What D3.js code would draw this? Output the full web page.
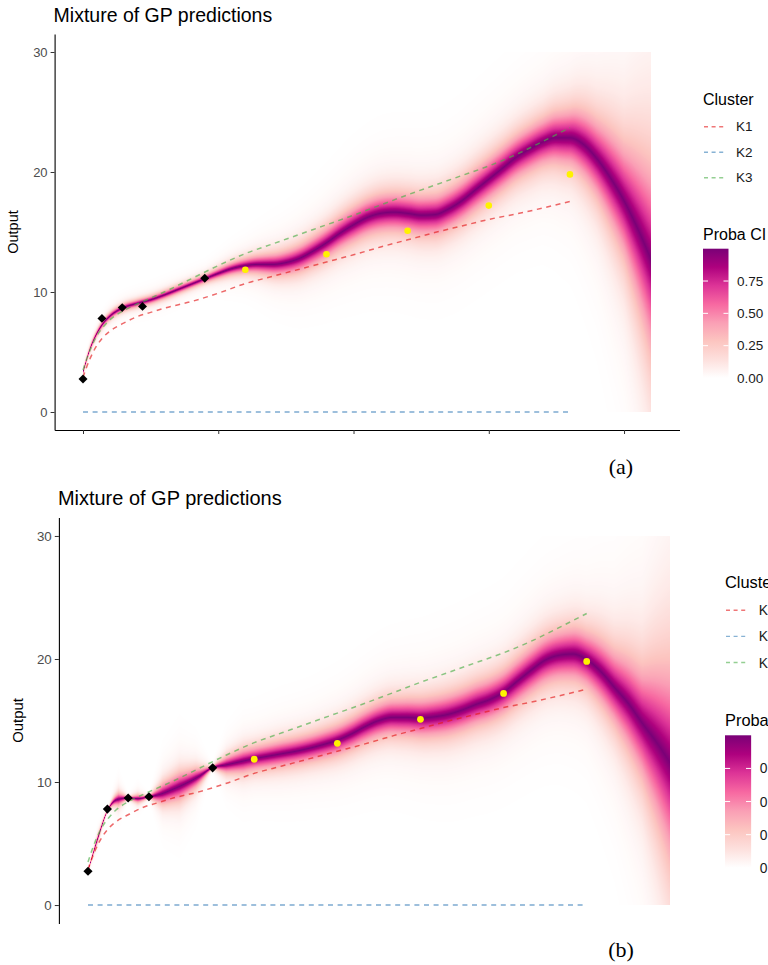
<!DOCTYPE html>
<html>
<head>
<meta charset="utf-8">
<script src="https://cdnjs.cloudflare.com/ajax/libs/d3/7.8.5/d3.min.js"></script>
<style>
  body { margin: 0; background: #fff; }
  svg { display: block; font-family: "Liberation Sans", Arial, sans-serif; }
</style>
</head>
<body>
<svg id="fig" width="768" height="965"></svg>
<script>
// ---- data ----
const xTicks = [0, 5, 10, 15, 20]
const yTicks = [0, 10, 20, 30]
const clusters = ["K1", "K2", "K3"]
const clusterColors = ["#E41A1C", "#377EB8", "#4DAF4A"]
const probaTicks = [0, 0.25, 0.5, 0.75]

// observed points of the new individual (black) and test points (yellow)
const trainX = [0, 0.7, 1.45, 2.2, 4.5]
const trainY = [2.75, 7.8, 8.7, 8.8, 11.15]
const testX = [6, 9, 12, 15, 18]
const testY = [11.85, 13.15, 15.1, 17.2, 19.8]

// cluster mean processes (dashed)
const clusterX = [0, 0.25, 0.5, 0.75, 1, 1.5, 2, 2.5, 3, 4, 5, 6, 7, 8, 9, 10, 11, 12, 13, 14, 15, 16, 17, 18]
const k1Mean = [2.9, 4.4, 5.5, 6.25, 6.75, 7.4, 7.95, 8.3, 8.65, 9.2, 9.9, 10.7, 11.3, 11.9, 12.5, 13.1, 13.75, 14.35, 14.95, 15.5, 16.05, 16.5, 17.0, 17.55]
const k2Mean = [0, 0, 0, 0, 0, 0, 0, 0, 0, 0, 0, 0, 0, 0, 0, 0, 0, 0, 0, 0, 0, 0, 0, 0]
const k3Mean = [3.5, 5.1, 6.3, 7.1, 7.7, 8.45, 9.0, 9.5, 10.0, 11.1, 12.2, 13.2, 14.0, 14.8, 15.6, 16.4, 17.25, 18.1, 18.9, 19.7, 20.5, 21.45, 22.55, 23.7]

// panel (a): prediction mean and spread
const predXA = [0, 0.25, 0.5, 0.75, 1, 1.5, 2, 2.5, 3, 3.5, 4, 4.5, 5, 5.5, 6, 6.5, 7, 7.5, 8, 8.5, 9, 9.5, 10, 10.5, 11, 11.5, 12, 12.5, 13, 13.5, 14, 14.5, 15, 15.5, 16, 16.5, 17, 17.5, 18, 18.5, 19, 19.5, 20, 20.5, 21]
const predMeanA = [3.3, 5.2, 6.5, 7.4, 8.0, 8.7, 9.05, 9.35, 9.75, 10.2, 10.65, 11.1, 11.55, 11.95, 12.2, 12.3, 12.3, 12.45, 12.8, 13.4, 14.1, 14.9, 15.6, 16.2, 16.55, 16.65, 16.55, 16.4, 16.45, 16.9, 17.6, 18.5, 19.4, 20.3, 21.2, 21.9, 22.5, 22.85, 22.85, 22.3, 21.1, 19.5, 17.6, 15.3, 12.7]
const sdXA = [0, 1, 2, 3, 4, 4.5, 5, 6, 7, 8, 9, 10, 11, 12, 13, 14, 15, 16, 17, 18, 19, 20, 21]
const sdA = [0.18, 0.26, 0.28, 0.3, 0.3, 0.3, 0.38, 0.55, 0.8, 1.0, 1.15, 1.3, 1.4, 1.45, 1.5, 1.55, 1.6, 1.65, 1.75, 2.1, 2.9, 4.2, 7.0]

// panel (b)
const predXB = [0, 0.35, 0.73, 0.9, 1.1, 1.45, 1.8, 2.2, 2.6, 3, 3.5, 4, 4.48, 5, 5.5, 6, 6.5, 7, 7.5, 8, 8.5, 9, 9.5, 10, 10.5, 11, 11.5, 12, 12.5, 13, 13.5, 14, 14.5, 15, 15.5, 16, 16.5, 17, 17.5, 18, 18.5, 19, 19.5, 20, 20.5, 21]
const predMeanB = [2.76, 5.4, 7.8, 8.35, 8.6, 8.7, 8.65, 8.8, 9.0, 9.35, 9.85, 10.45, 11.15, 11.4, 11.65, 11.9, 12.1, 12.3, 12.5, 12.75, 13.05, 13.4, 13.9, 14.5, 15.0, 15.25, 15.25, 15.2, 15.3, 15.5, 15.85, 16.3, 16.7, 17.3, 18.2, 19.1, 19.9, 20.3, 20.4, 19.95, 19.0, 17.7, 16.4, 14.8, 13.3, 11.6]
const sdXB = [0, 0.35, 0.73, 1.1, 1.45, 1.8, 2.2, 2.7, 3.3, 3.9, 4.48, 5, 5.6, 6, 7, 8, 9, 10, 11, 12, 13, 14, 15, 16, 17, 18, 19, 20, 21]
const sdB = [0.08, 0.25, 0.08, 0.45, 0.08, 0.28, 0.08, 0.75, 1.0, 0.7, 0.08, 0.6, 0.85, 0.85, 0.95, 1.0, 1.1, 1.2, 1.3, 1.4, 1.5, 1.55, 1.6, 1.7, 1.8, 2.0, 2.7, 4.0, 7.0]

const gridX = [0, 21]
const gridY = [0, 30]

// ---- drawing ----
const svg = d3.select("#fig")
const probaColors = ["#ffffff", "#fde0dd", "#fcc5c0", "#fa9fb5", "#f768a1", "#dd3497", "#ae017e", "#7a0177"]
const probaScale = d3.scaleLinear()
  .domain(d3.range(probaColors.length).map(i => i / (probaColors.length - 1)))
  .range(probaColors)
const lut = d3.range(256).map(i => d3.rgb(probaScale(i / 255)))

// two sided tail probability, 1 at the mean
const erf = x => {
  const t = 1 / (1 + 0.3275911 * x)
  return 1 - (((((1.061405429 * t - 1.453152027) * t) + 1.421413741) * t - 0.284496736) * t + 0.254829592) * t * Math.exp(-x * x)
}
const tail = z => 1 - erf(Math.abs(z) / Math.SQRT2)

const drawPanel = (p) => {
  const x = d3.scaleLinear().domain([-1.05, 22.05]).range(p.xRange)
  const y = d3.scaleLinear().domain([-1.5, 31.5]).range(p.yRange)
  const s = p.fs
  const g = svg.append("g")

  // mean curve lookup through a monotone path
  const tmp = g.append("path")
    .attr("d", d3.line().x(d => x(d[0])).y(d => y(d[1])).curve(d3.curveMonotoneX)(p.predX.map((v, i) => [v, p.predMean[i]])))
    .attr("fill", "none").attr("stroke", "none")
  const node = tmp.node()
  const len = node.getTotalLength()
  const pts = d3.range(0, len, 0.5).map(l => node.getPointAtLength(l))
  tmp.remove()
  const meanAt = d3.scaleLinear().domain(pts.map(d => d.x)).range(pts.map(d => d.y)).clamp(true)
  const sdAt = d3.scaleLinear().domain(p.sdX).range(p.sd).clamp(true)
  const unit = y(0) - y(1)

  const x0 = Math.round(x(gridX[0])), x1 = Math.round(x(gridX[1]))
  const yTop = Math.round(y(gridY[1])), yBot = Math.round(y(gridY[0]))
  const W = x1 - x0, H = yBot - yTop
  const canvas = document.createElement("canvas")
  canvas.width = W; canvas.height = H
  const ctx = canvas.getContext("2d")
  const img = ctx.createImageData(W, H)
  for (let i = 0; i < W; i++) {
    const px = x0 + i + 0.5
    const m = meanAt(px)
    const sd = sdAt(x.invert(px)) * unit
    for (let j = 0; j < H; j++) {
      const dz = (yTop + j + 0.5 - m)
      const pr = 0.82 * tail(dz / sd) + 0.18 * tail(dz / (2.3 * sd))
      const c = lut[Math.max(0, Math.min(255, Math.round(pr * 255)))]
      const k = (j * W + i) * 4
      img.data[k] = c.r; img.data[k + 1] = c.g; img.data[k + 2] = c.b; img.data[k + 3] = 255
    }
  }
  ctx.putImageData(img, 0, 0)
  g.append("image")
    .attr("x", x0).attr("y", yTop).attr("width", W).attr("height", H)
    .attr("preserveAspectRatio", "none")
    .attr("href", canvas.toDataURL())

  // cluster mean lines
  const means = [k1Mean, k2Mean, k3Mean]
  const line = d3.line().x(d => x(d[0])).y(d => y(d[1])).curve(d3.curveMonotoneX)
  means.forEach((vals, k) => {
    g.append("path")
      .attr("d", line(clusterX.map((v, i) => [v, vals[i]])))
      .attr("fill", "none")
      .attr("stroke", clusterColors[k])
      .attr("stroke-opacity", 0.65)
      .attr("stroke-width", 1.5)
      .attr("stroke-dasharray", "5,4.6")
  })

  // points
  g.append("g").selectAll("path")
    .data(trainX.map((v, i) => [v, trainY[i]]))
    .join("path")
    .attr("d", d3.symbol(d3.symbolSquare, 40 * s * s))
    .attr("transform", d => `translate(${x(d[0])},${y(d[1])}) rotate(45)`)
    .attr("fill", "#000")
  g.append("g").selectAll("circle")
    .data(testX.map((v, i) => [v, testY[i]]))
    .join("circle")
    .attr("cx", d => x(d[0])).attr("cy", d => y(d[1]))
    .attr("r", 3.3 * s)
    .attr("fill", "#FFF200")

  // axes
  const yAxis = g.append("g")
    .attr("transform", `translate(${p.xRange[0]},0)`)
    .call(d3.axisLeft(y).tickValues(yTicks).tickSize(4 * s).tickSizeOuter(0).tickPadding(3 * s))
  yAxis.select(".domain").attr("stroke", "#000").attr("stroke-width", 1.1)
  yAxis.selectAll(".tick line").attr("stroke", "#333")
  yAxis.selectAll(".tick text").attr("fill", "#4d4d4d").style("font-size", `${13 * s}px`)
    .style("font-family", "'Liberation Sans', Arial, sans-serif")

  if (p.showX) {
    const xAxis = g.append("g")
      .attr("transform", `translate(0,${p.yRange[0]})`)
      .call(d3.axisBottom(x).tickValues(xTicks).tickFormat("").tickSize(4 * s).tickSizeOuter(0))
    xAxis.select(".domain").attr("stroke", "#000").attr("stroke-width", 1.1)
    xAxis.selectAll(".tick line").attr("stroke", "#333")
  }

  g.append("text")
    .attr("x", p.xRange[0] - 1).attr("y", p.titleY)
    .style("font-size", `${19.5 * s}px`)
    .attr("fill", "#000")
    .text("Mixture of GP predictions")

  g.append("text")
    .attr("transform", `translate(${p.ylabX},${(p.yRange[0] + p.yRange[1]) / 2}) rotate(-90)`)
    .attr("text-anchor", "middle")
    .style("font-size", `${14.5 * s}px`)
    .attr("fill", "#000")
    .text("Output")

  // legends
  const lx = p.legendX, ly = p.legendY
  g.append("text").attr("x", lx).attr("y", ly)
    .style("font-size", `${16 * s}px`).text("Cluster")
  clusters.forEach((c, k) => {
    const ky = ly + (21.7 + 25.5 * k) * s
    g.append("line")
      .attr("x1", lx + 1).attr("x2", lx + 1 + 22 * s)
      .attr("y1", ky).attr("y2", ky)
      .attr("stroke", clusterColors[k]).attr("stroke-opacity", 0.6)
      .attr("stroke-width", 1.4).attr("stroke-dasharray", "4,3.6")
    g.append("text").attr("x", lx + 33 * s).attr("y", ky)
      .attr("dominant-baseline", "central")
      .style("font-size", `${13.5 * s}px`).attr("fill", "#1a1a1a").text(c)
  })

  g.append("text").attr("x", lx).attr("y", ly + 135 * s)
    .style("font-size", `${16 * s}px`).text("Proba CI")

  const barTop = ly + 143.7 * s, barLen = 129.3 * s, barW = 25.5 * s
  const gid = `grad${p.id}`
  const grad = svg.append("defs").append("linearGradient")
    .attr("id", gid).attr("x1", 0).attr("y1", 1).attr("x2", 0).attr("y2", 0)
  probaColors.forEach((c, i) => {
    grad.append("stop").attr("offset", i / (probaColors.length - 1)).attr("stop-color", c)
  })
  g.append("rect").attr("x", lx).attr("y", barTop).attr("width", barW).attr("height", barLen)
    .attr("fill", `url(#${gid})`)
  const bar = d3.scaleLinear().domain([0, 1]).range([barTop + barLen, barTop])
  probaTicks.forEach(t => {
    if (t > 0) {
      g.append("line").attr("x1", lx).attr("x2", lx + 5 * s).attr("y1", bar(t)).attr("y2", bar(t))
        .attr("stroke", "#fff").attr("stroke-width", 1)
      g.append("line").attr("x1", lx + barW - 5 * s).attr("x2", lx + barW).attr("y1", bar(t)).attr("y2", bar(t))
        .attr("stroke", "#fff").attr("stroke-width", 1)
    }
    g.append("text").attr("x", lx + 34 * s).attr("y", bar(t))
      .attr("dominant-baseline", "central")
      .style("font-size", `${13.5 * s}px`).attr("fill", "#1a1a1a")
      .text(d3.format(".2f")(t))
  })

  g.append("text").attr("x", p.tagX).attr("y", p.tagY)
    .attr("text-anchor", "middle")
    .style("font-family", "'Liberation Serif', 'DejaVu Serif', serif")
    .style("font-size", "22px")
    .text(p.tag)
}

drawPanel({
  id: "a", tag: "(a)", fs: 1,
  xRange: [54.6, 679.5], yRange: [430, 34],
  titleY: 21.7, ylabX: 18,
  legendX: 703, legendY: 105,
  tagX: 621, tagY: 474,
  showX: true,
  predX: predXA, predMean: predMeanA, sdX: sdXA, sd: sdA
})

drawPanel({
  id: "b", tag: "(b)", fs: 1.025,
  xRange: [58.9, 698.9], yRange: [923.5, 517.5],
  titleY: 505, ylabX: 23,
  legendX: 725, legendY: 588,
  tagX: 621, tagY: 957,
  showX: false,
  predX: predXB, predMean: predMeanB, sdX: sdXB, sd: sdB
})
</script>
</body>
</html>
